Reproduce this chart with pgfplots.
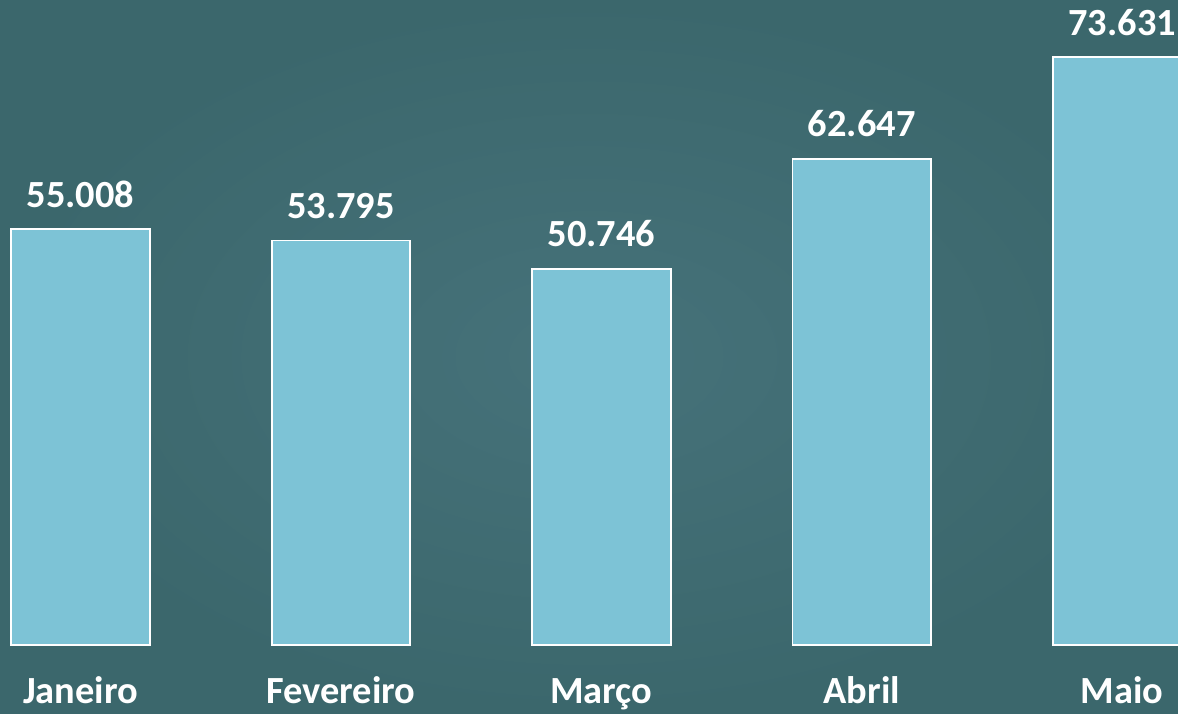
\documentclass[border=0pt]{standalone}
\usepackage{pgfplots}
\pgfplotsset{compat=1.18}
\usepackage{fontspec}
\setmainfont{Carlito}
\definecolor{bgin}{HTML}{46727A}
\definecolor{bgout}{HTML}{3B676C}
\definecolor{barc}{HTML}{7DC3D6}
\begin{document}
\begin{tikzpicture}[x=1pt,y=1pt]
\useasboundingbox (0,0) rectangle (589,356.5);
\shade[inner color=bgin, outer color=bgout] (0,0) rectangle (589,356.5);
\clip (0,0) rectangle (589,356.5);
\begin{axis}[
  at={(0pt,34pt)}, anchor=south west, scale only axis,
  width=589pt, height=322.5pt,
  xmin=-0.3091, xmax=4.2143, ymin=10000, ymax=79840,
  axis line style={draw=none}, major tick length=0pt,
  ytick=\empty, xtick={0,1,2,3,4},
  xticklabels={Janeiro,Fevereiro,Março,Abril,Maio},
  xticklabel style={anchor=base, yshift=-29pt, inner sep=0pt,
    font=\fontsize{19.2}{21}\selectfont\bfseries, text=white},
  ybar, bar width=69.25pt,
  nodes near coords={\pgfmathprintnumber[fixed,precision=0,1000 sep={.},assume math mode=true]{\pgfplotspointmeta}},
  every node near coord/.append style={anchor=base, yshift=11pt, inner sep=0pt,
    font=\fontsize{19.2}{21}\selectfont\bfseries, text=white},
  clip=false,
]
\addplot[fill=barc, draw=white, line width=0.9pt] coordinates {(0,55008) (1,53795) (2,50746) (3,62647) (4,73631)};
\end{axis}
\end{tikzpicture}
\end{document}
